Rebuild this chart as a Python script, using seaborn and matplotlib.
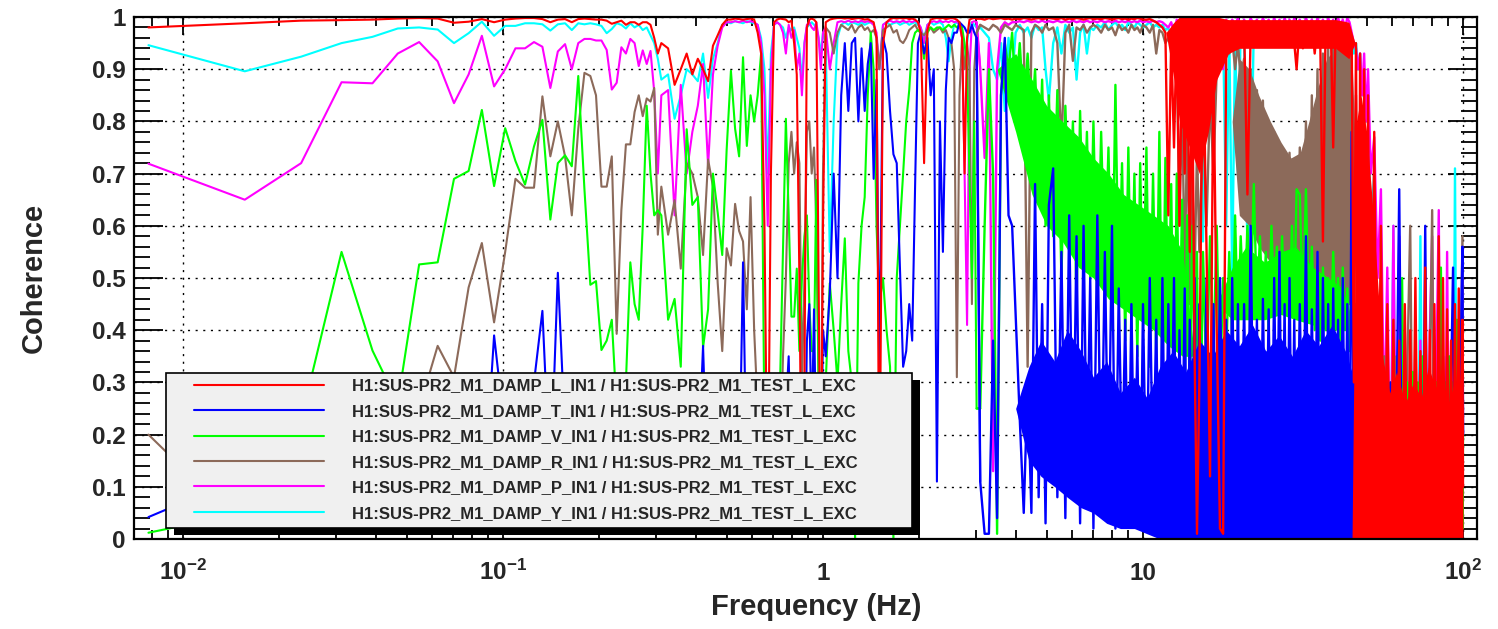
import numpy as np
import pandas as pd
import matplotlib
matplotlib.use("Agg")
import matplotlib.pyplot as plt
from matplotlib.ticker import LogLocator, MultipleLocator, NullFormatter
from matplotlib.patches import Rectangle
from matplotlib.lines import Line2D
import seaborn as sns

# ---------------- frequency bins (Hz) ----------------
freq_a = [0.0078, 0.0156, 0.0234, 0.0313, 0.0391, 0.0469, 0.0547, 0.0625, 0.0703, 0.0781,
          0.0859, 0.0938, 0.1016, 0.1094, 0.1172, 0.1250, 0.1328, 0.1406, 0.1484, 0.1563,
          0.1641, 0.1719, 0.1797, 0.1875, 0.1953, 0.2031, 0.2109, 0.2188, 0.2266, 0.2344,
          0.2422, 0.2500, 0.2578, 0.2656, 0.2734, 0.2813, 0.2891, 0.2969, 0.3047, 0.3125]
freq_b = [0.3281, 0.3438, 0.3594, 0.3750, 0.3906, 0.4063, 0.4219, 0.4375, 0.4531, 0.4688,
          0.4844, 0.5000, 0.5156, 0.5313, 0.5469, 0.5625, 0.5781, 0.5938, 0.6094, 0.6250,
          0.6406, 0.6563, 0.6719, 0.6875, 0.7031, 0.7188, 0.7344, 0.7500, 0.7656, 0.7813,
          0.7969, 0.8125, 0.8281, 0.8438, 0.8594, 0.8750, 0.8906, 0.9063, 0.9219, 0.9375,
          0.9531, 0.9688, 0.9844, 1.0000]
freq_c = [1.02, 1.05, 1.08, 1.11, 1.14, 1.17, 1.20, 1.23, 1.26, 1.29,
          1.32, 1.35, 1.38, 1.41, 1.44, 1.47, 1.50, 1.54, 1.58, 1.62,
          1.66, 1.70, 1.74, 1.78, 1.82, 1.86, 1.90, 1.94, 1.98, 2.02,
          2.07, 2.12, 2.17, 2.22, 2.27, 2.32, 2.37, 2.42, 2.47, 2.52,
          2.57, 2.62, 2.67, 2.72, 2.77, 2.82, 2.87, 2.92, 2.97, 3.02]
freq_d = [3.1, 3.2, 3.3, 3.4, 3.5, 3.6, 3.7, 3.8, 3.9, 4.0,
          4.12, 4.24, 4.36, 4.48, 4.60, 4.72, 4.84, 4.96, 5.08, 5.24,
          5.40, 5.56, 5.72, 5.88, 6.04, 6.20, 6.36, 6.52, 6.68, 6.84,
          7.00, 7.2, 7.4, 7.6, 7.8, 8.0, 8.2, 8.4, 8.6, 8.8,
          9.0, 9.2, 9.4, 9.6, 9.8, 10.0, 10.25, 10.5, 10.75, 11.0,
          11.25, 11.5, 11.75, 12.0, 12.25, 12.5, 12.75, 13.0, 13.25, 13.5,
          13.75, 14.0, 14.25, 14.5, 14.75, 15.0, 15.4, 15.8, 16.2, 16.6,
          17.0, 17.4, 17.8, 18.2, 18.6, 19.0, 19.4, 19.8, 20.2, 20.7,
          21.2, 21.7, 22.2, 22.7, 23.2, 23.7, 24.2, 24.7, 25.2, 25.7,
          26.2, 26.7, 27.2, 27.7, 28.2, 28.7, 29.2, 29.7, 30.2, 30.9,
          31.6, 32.3, 33.0, 33.7, 34.4, 35.1, 35.8, 36.5, 37.2, 37.9,
          38.6, 39.3, 40.0, 40.7, 41.4, 42.1, 42.8, 43.5, 44.2, 44.9,
          45.6, 46.3, 47.0, 47.7, 48.4, 49.1, 49.8, 50.5, 51.5, 52.8,
          54.1, 55.4, 56.7, 58.0, 59.3, 60.6, 61.9, 63.2, 64.5, 65.8,
          67.1, 68.4, 69.7, 71.0, 72.3, 73.6, 74.9, 76.2, 77.5, 78.8,
          80.1, 81.4, 82.7, 84.0, 85.3, 86.6, 87.9, 89.2, 90.5, 91.8,
          93.1, 94.4, 95.7, 97.0, 98.3, 99.6, 100.0]

# ---------------- coherence: DAMP_L ----------------
coh_L_a = [0.980, 0.988, 0.993, 0.994, 0.995, 0.997, 0.998, 0.997, 0.989, 0.991,
           0.996, 0.990, 0.995, 0.997, 0.998, 0.998, 0.996, 0.990, 0.995, 0.996,
           0.990, 0.996, 0.997, 0.996, 0.995, 0.995, 0.993, 0.987, 0.990, 0.993,
           0.985, 0.990, 0.990, 0.985, 0.990, 0.990, 0.985, 0.960, 0.930, 0.950]
coh_L_b = [0.940, 0.870, 0.900, 0.930, 0.890, 0.920, 0.900, 0.877, 0.945, 0.965,
           0.985, 0.995, 0.995, 0.997, 0.996, 0.995, 0.996, 0.997, 0.995, 0.970,
           0.930, 0.600, 0.020, 0.700, 0.990, 0.995, 0.997, 0.996, 0.995, 0.990,
           0.993, 0.950, 0.890, 0.500, 0.020, 0.300, 0.980, 0.995, 0.997, 0.995,
           0.990, 0.500, 0.020, 0.600]
coh_L_c = [0.990, 0.995, 0.997, 0.998, 0.998, 0.997, 0.998, 0.996, 0.997, 0.998,
           0.997, 0.995, 0.996, 0.993, 0.990, 0.960, 0.020, 0.950, 0.990, 0.996,
           0.998, 0.997, 0.998, 0.997, 0.998, 0.996, 0.997, 0.995, 0.990, 0.970,
           0.720, 0.975, 0.995, 0.997, 0.998, 0.997, 0.998, 0.996, 0.997, 0.998,
           0.997, 0.995, 0.990, 0.960, 0.700, 0.960, 0.995, 0.997, 0.998, 0.997]
coh_L_d = [0.997, 0.995, 0.998, 0.996, 0.997, 0.998, 0.996, 0.997, 0.995, 0.997,
           0.996, 0.998, 0.997, 0.995, 0.997, 0.998, 0.996, 0.997, 0.998, 0.997,
           0.996, 0.998, 0.995, 0.997, 0.996, 0.998, 0.997, 0.995, 0.997, 0.998,
           0.996, 0.997, 0.996, 0.998, 0.997, 0.995, 0.997, 0.998, 0.996, 0.997,
           0.995, 0.997, 0.996, 0.998, 0.997, 0.995, 0.995, 0.996, 0.993, 0.990,
           0.985, 0.980, 0.970, 0.620, 0.960, 0.750, 0.980, 0.600, 0.950, 0.700,
           0.970, 0.550, 0.900, 0.350, 0.010, 0.300, 0.970, 0.550, 0.120, 0.900,
           0.400, 0.020, 0.010, 0.950, 0.980, 0.970, 0.990, 0.980, 0.990, 0.985,
           0.660, 0.970, 0.990, 0.950, 0.985, 0.970, 0.990, 0.960, 0.985, 0.970,
           0.990, 0.950, 0.980, 0.960, 0.990, 0.970, 0.985, 0.950, 0.900, 0.990,
           0.940, 0.985, 0.950, 0.990, 0.930, 0.985, 0.960, 0.570, 0.980, 0.950,
           0.990, 0.750, 0.980, 0.950, 0.990, 0.940, 0.985, 0.950, 0.980, 0.960,
           0.300, 0.950, 0.100, 0.930, 0.050, 0.900, 0.030, 0.850, 0.020, 0.780,
           0.010, 0.600, 0.005, 0.450, 0.020, 0.420, 0.010, 0.380, 0.030, 0.450,
           0.010, 0.400, 0.020, 0.500, 0.010, 0.360, 0.030, 0.520, 0.010, 0.400,
           0.020, 0.450, 0.010, 0.580, 0.020, 0.500, 0.010, 0.440, 0.030, 0.380,
           0.010, 0.450, 0.020, 0.480, 0.010, 0.420, 0.100]

# ---------------- coherence: DAMP_T ----------------
coh_T_a = [0.042, 0.120, 0.050, 0.020, 0.150, 0.080, 0.030, 0.100, 0.050, 0.200,
           0.020, 0.390, 0.200, 0.050, 0.150, 0.300, 0.437, 0.100, 0.510, 0.200,
           0.100, 0.050, 0.150, 0.080, 0.120, 0.040, 0.200, 0.100, 0.060, 0.150,
           0.100, 0.040, 0.120, 0.250, 0.080, 0.030, 0.100, 0.200, 0.060, 0.020]
coh_T_b = [0.100, 0.050, 0.180, 0.080, 0.200, 0.120, 0.370, 0.060, 0.150, 0.030,
           0.200, 0.100, 0.050, 0.220, 0.100, 0.530, 0.080, 0.150, 0.040, 0.200,
           0.100, 0.250, 0.050, 0.150, 0.300, 0.100, 0.200, 0.060, 0.250, 0.350,
           0.100, 0.200, 0.280, 0.100, 0.300, 0.050, 0.380, 0.450, 0.200, 0.440,
           0.150, 0.300, 0.100, 0.400]
coh_T_c = [0.350, 0.470, 0.700, 0.500, 0.850, 0.950, 0.820, 0.950, 0.960, 0.800,
           0.940, 0.820, 0.910, 0.950, 0.690, 0.880, 0.300, 0.960, 0.930, 0.820,
           0.737, 0.720, 0.518, 0.330, 0.360, 0.450, 0.380, 0.675, 0.950, 0.970,
           0.930, 0.960, 0.850, 0.900, 0.110, 0.800, 0.550, 0.860, 0.960, 0.950,
           0.970, 0.970, 0.990, 0.985, 0.980, 0.970, 0.970, 0.985, 0.970, 0.960]
coh_T_d = [0.110, 0.010, 0.010, 0.380, 0.040, 0.850, 0.960, 0.620, 0.600, 0.430,
           0.230, 0.050, 0.300, 0.050, 0.680, 0.080, 0.450, 0.030, 0.640, 0.710,
           0.080, 0.550, 0.040, 0.620, 0.100, 0.580, 0.030, 0.600, 0.120, 0.500,
           0.020, 0.620, 0.060, 0.550, 0.100, 0.600, 0.020, 0.480, 0.120, 0.420,
           0.030, 0.450, 0.080, 0.370, 0.020, 0.450, 0.050, 0.500, 0.100, 0.420,
           0.020, 0.500, 0.050, 0.450, 0.150, 0.500, 0.020, 0.400, 0.100, 0.480,
           0.030, 0.420, 0.080, 0.500, 0.020, 0.450, 0.050, 0.500, 0.100, 0.450,
           0.020, 0.500, 0.080, 0.420, 0.030, 0.500, 0.100, 0.450, 0.040, 0.450,
           0.050, 0.600, 0.100, 0.420, 0.020, 0.460, 0.080, 0.440, 0.030, 0.500,
           0.100, 0.550, 0.050, 0.450, 0.020, 0.500, 0.080, 0.420, 0.030, 0.450,
           0.100, 0.580, 0.040, 0.440, 0.080, 0.550, 0.020, 0.500, 0.100, 0.450,
           0.030, 0.480, 0.080, 0.420, 0.020, 0.500, 0.100, 0.450, 0.050, 0.780,
           0.040, 0.400, 0.020, 0.350, 0.010, 0.300, 0.050, 0.250, 0.050, 0.020,
           0.300, 0.010, 0.250, 0.020, 0.300, 0.050, 0.200, 0.670, 0.020, 0.300,
           0.050, 0.280, 0.010, 0.320, 0.030, 0.300, 0.050, 0.600, 0.020, 0.300,
           0.040, 0.250, 0.020, 0.300, 0.050, 0.280, 0.020, 0.350, 0.040, 0.300,
           0.520, 0.050, 0.300, 0.030, 0.350, 0.560, 0.200]

# ---------------- coherence: DAMP_V ----------------
coh_V_a = [0.012, 0.050, 0.229, 0.550, 0.361, 0.261, 0.526, 0.530, 0.690, 0.705,
           0.822, 0.676, 0.787, 0.724, 0.679, 0.752, 0.803, 0.612, 0.720, 0.735,
           0.714, 0.887, 0.670, 0.487, 0.494, 0.362, 0.380, 0.420, 0.250, 0.200,
           0.300, 0.530, 0.450, 0.420, 0.600, 0.830, 0.700, 0.620, 0.630, 0.620]
coh_V_b = [0.420, 0.460, 0.330, 0.785, 0.640, 0.655, 0.367, 0.440, 0.700, 0.625,
           0.544, 0.746, 0.897, 0.786, 0.733, 0.923, 0.753, 0.850, 0.800, 0.850,
           0.930, 0.200, 0.100, 0.250, 0.150, 0.300, 0.300, 0.557, 0.805, 0.620,
           0.426, 0.426, 0.518, 0.360, 0.500, 0.580, 0.620, 0.450, 0.360, 0.360,
           0.688, 0.300, 0.100, 0.250]
coh_V_c = [0.300, 0.490, 0.400, 0.300, 0.450, 0.576, 0.360, 0.300, 0.000, 0.490,
           0.600, 0.655, 0.850, 0.970, 0.900, 0.600, 0.450, 0.500, 0.400, 0.330,
           0.000, 0.500, 0.600, 0.700, 0.800, 0.860, 0.950, 0.970, 0.975, 0.970,
           0.920, 0.970, 0.980, 0.975, 0.980, 0.980, 0.975, 0.980, 0.985, 0.980,
           0.985, 0.980, 0.985, 0.980, 0.950, 0.900, 0.690, 0.500, 0.800, 0.250]
coh_V_d = [0.250, 0.600, 0.900, 0.700, 0.010, 0.850, 0.950, 0.900, 0.970, 0.850,
           0.950, 0.820, 0.930, 0.790, 0.900, 0.700, 0.880, 0.600, 0.850, 0.580,
           0.860, 0.500, 0.830, 0.600, 0.800, 0.450, 0.820, 0.550, 0.780, 0.500,
           0.800, 0.450, 0.780, 0.500, 0.750, 0.400, 0.870, 0.450, 0.720, 0.380,
           0.750, 0.400, 0.700, 0.350, 0.720, 0.420, 0.750, 0.330, 0.700, 0.350,
           0.780, 0.300, 0.730, 0.400, 0.680, 0.250, 0.700, 0.350, 0.650, 0.300,
           0.620, 0.250, 0.600, 0.300, 0.550, 0.020, 0.550, 0.300, 0.580, 0.350,
           0.600, 0.280, 0.500, 0.350, 0.550, 0.380, 0.620, 0.400, 0.580, 0.420,
           0.600, 0.450, 0.680, 0.440, 0.580, 0.420, 0.550, 0.400, 0.600, 0.450,
           0.560, 0.420, 0.580, 0.440, 0.550, 0.400, 0.600, 0.450, 0.670, 0.660,
           0.450, 0.670, 0.420, 0.560, 0.400, 0.500, 0.380, 0.520, 0.400, 0.500,
           0.370, 0.550, 0.420, 0.500, 0.380, 0.520, 0.400, 0.480, 0.360, 0.500,
           0.300, 0.450, 0.200, 0.400, 0.100, 0.350, 0.050, 0.300, 0.020, 0.300,
           0.050, 0.350, 0.010, 0.300, 0.040, 0.280, 0.020, 0.300, 0.500, 0.030,
           0.300, 0.010, 0.320, 0.040, 0.300, 0.020, 0.350, 0.050, 0.300, 0.020,
           0.280, 0.040, 0.300, 0.020, 0.520, 0.030, 0.300, 0.020, 0.350, 0.040,
           0.300, 0.020, 0.420, 0.050, 0.300, 0.020, 0.200]

# ---------------- coherence: DAMP_R ----------------
coh_R_a = [0.200, 0.020, 0.150, 0.050, 0.200, 0.120, 0.250, 0.370, 0.310, 0.482,
           0.567, 0.415, 0.550, 0.690, 0.673, 0.673, 0.848, 0.733, 0.800, 0.733,
           0.620, 0.786, 0.893, 0.887, 0.850, 0.675, 0.675, 0.733, 0.393, 0.630,
           0.756, 0.756, 0.818, 0.850, 0.810, 0.844, 0.838, 0.864, 0.583, 0.675]
coh_R_b = [0.583, 0.649, 0.518, 0.720, 0.700, 0.655, 0.544, 0.727, 0.675, 0.490,
           0.360, 0.557, 0.524, 0.642, 0.590, 0.570, 0.440, 0.655, 0.400, 0.250,
           0.150, 0.100, 0.050, 0.200, 0.100, 0.300, 0.150, 0.350, 0.500, 0.720,
           0.780, 0.700, 0.760, 0.720, 0.300, 0.500, 0.780, 0.800, 0.700, 0.750,
           0.600, 0.300, 0.100, 0.700]
coh_R_c = [0.980, 0.970, 0.930, 0.970, 0.985, 0.980, 0.975, 0.985, 0.970, 0.980,
           0.985, 0.975, 0.980, 0.970, 0.975, 0.960, 0.900, 0.975, 0.980, 0.985,
           0.970, 0.975, 0.955, 0.950, 0.960, 0.975, 0.980, 0.985, 0.975, 0.970,
           0.965, 0.975, 0.980, 0.970, 0.975, 0.980, 0.970, 0.975, 0.960, 0.950,
           0.900, 0.310, 0.850, 0.960, 0.900, 0.950, 0.900, 0.450, 0.900, 0.970]
coh_R_d = [0.985, 0.980, 0.975, 0.985, 0.980, 0.970, 0.985, 0.980, 0.975, 0.985,
           0.980, 0.975, 0.330, 0.970, 0.985, 0.980, 0.970, 0.985, 0.975, 0.980,
           0.950, 0.750, 0.970, 0.985, 0.916, 0.980, 0.975, 0.985, 0.970, 0.980,
           0.985, 0.980, 0.970, 0.985, 0.975, 0.980, 0.965, 0.985, 0.975, 0.980,
           0.970, 0.985, 0.975, 0.980, 0.970, 0.985, 0.980, 0.970, 0.985, 0.930,
           0.975, 0.970, 0.950, 0.960, 0.970, 0.900, 0.930, 0.600, 0.850, 0.500,
           0.800, 0.450, 0.700, 0.500, 0.750, 0.550, 0.800, 0.600, 0.850, 0.700,
           0.900, 0.950, 0.960, 0.970, 0.930, 0.960, 0.900, 0.950, 0.880, 0.920,
           0.620, 0.900, 0.600, 0.860, 0.580, 0.840, 0.550, 0.800, 0.550, 0.780,
           0.520, 0.750, 0.500, 0.720, 0.500, 0.740, 0.480, 0.720, 0.470, 0.750,
           0.460, 0.800, 0.450, 0.850, 0.470, 0.900, 0.440, 0.930, 0.460, 0.950,
           0.450, 0.960, 0.470, 0.950, 0.440, 0.960, 0.460, 0.950, 0.450, 0.900,
           0.400, 0.850, 0.300, 0.700, 0.200, 0.550, 0.100, 0.500, 0.300, 0.050,
           0.400, 0.020, 0.350, 0.050, 0.300, 0.020, 0.350, 0.040, 0.300, 0.020,
           0.350, 0.600, 0.030, 0.300, 0.050, 0.350, 0.020, 0.300, 0.040, 0.320,
           0.630, 0.020, 0.300, 0.050, 0.350, 0.020, 0.300, 0.040, 0.320, 0.020,
           0.300, 0.040, 0.330, 0.020, 0.300, 0.580, 0.200]

# ---------------- coherence: DAMP_P ----------------
coh_P_a = [0.719, 0.650, 0.720, 0.875, 0.873, 0.930, 0.952, 0.915, 0.835, 0.890,
           0.964, 0.867, 0.900, 0.940, 0.940, 0.952, 0.943, 0.864, 0.934, 0.948,
           0.900, 0.950, 0.958, 0.958, 0.955, 0.955, 0.937, 0.861, 0.874, 0.942,
           0.930, 0.958, 0.950, 0.906, 0.936, 0.910, 0.935, 0.857, 0.700, 0.850]
coh_P_b = [0.860, 0.620, 0.870, 0.700, 0.780, 0.830, 0.910, 0.714, 0.890, 0.945,
           0.980, 0.990, 0.990, 0.992, 0.990, 0.993, 0.990, 0.992, 0.990, 0.985,
           0.950, 0.850, 0.600, 0.900, 0.985, 0.990, 0.985, 0.970, 0.930, 0.985,
           0.960, 0.975, 0.900, 0.930, 0.850, 0.950, 0.985, 0.990, 0.980, 0.975,
           0.990, 0.960, 0.900, 0.970]
coh_P_c = [0.980, 0.900, 0.950, 0.990, 0.992, 0.990, 0.993, 0.990, 0.992, 0.990,
           0.993, 0.990, 0.992, 0.990, 0.985, 0.970, 0.900, 0.985, 0.990, 0.993,
           0.990, 0.992, 0.990, 0.993, 0.990, 0.992, 0.990, 0.993, 0.990, 0.980,
           0.950, 0.985, 0.990, 0.992, 0.990, 0.993, 0.990, 0.992, 0.990, 0.993,
           0.990, 0.992, 0.985, 0.960, 0.700, 0.410, 0.900, 0.990, 0.992, 0.990]
coh_P_d = [0.900, 0.730, 0.950, 0.130, 0.900, 0.980, 0.990, 0.985, 0.990, 0.990,
           0.992, 0.990, 0.993, 0.990, 0.992, 0.990, 0.993, 0.990, 0.992, 0.990,
           0.993, 0.990, 0.992, 0.990, 0.993, 0.990, 0.992, 0.990, 0.993, 0.990,
           0.992, 0.990, 0.993, 0.990, 0.992, 0.990, 0.993, 0.990, 0.992, 0.990,
           0.993, 0.990, 0.992, 0.990, 0.993, 0.990, 0.992, 0.990, 0.993, 0.990,
           0.992, 0.990, 0.985, 0.980, 0.990, 0.970, 0.995, 0.960, 0.990, 0.970,
           0.995, 0.960, 0.990, 0.950, 0.900, 0.950, 0.995, 0.970, 0.990, 0.980,
           0.990, 0.950, 0.900, 0.995, 0.980, 0.995, 0.985, 0.998, 0.980, 0.995,
           0.980, 0.998, 0.985, 0.995, 0.980, 0.998, 0.985, 0.995, 0.980, 0.998,
           0.985, 0.995, 0.980, 0.998, 0.985, 0.995, 0.980, 0.998, 0.985, 0.995,
           0.980, 0.998, 0.985, 0.995, 0.980, 0.998, 0.985, 0.995, 0.980, 0.998,
           0.985, 0.995, 0.980, 0.998, 0.985, 0.995, 0.980, 0.998, 0.990, 0.970,
           0.950, 0.940, 0.900, 0.930, 0.850, 0.930, 0.800, 0.900, 0.700, 0.770,
           0.500, 0.670, 0.200, 0.520, 0.050, 0.600, 0.030, 0.580, 0.050, 0.400,
           0.020, 0.350, 0.030, 0.400, 0.020, 0.380, 0.040, 0.350, 0.020, 0.400,
           0.580, 0.030, 0.350, 0.630, 0.020, 0.350, 0.040, 0.550, 0.020, 0.380,
           0.030, 0.400, 0.020, 0.420, 0.040, 0.500, 0.200]

# ---------------- coherence: DAMP_Y ----------------
coh_Y_a = [0.946, 0.896, 0.924, 0.950, 0.962, 0.978, 0.980, 0.976, 0.950, 0.969,
           0.991, 0.964, 0.983, 0.983, 0.988, 0.988, 0.986, 0.974, 0.986, 0.988,
           0.975, 0.988, 0.986, 0.988, 0.986, 0.983, 0.969, 0.977, 0.988, 0.985,
           0.978, 0.988, 0.980, 0.985, 0.975, 0.980, 0.965, 0.950, 0.920, 0.880]
coh_Y_b = [0.890, 0.805, 0.850, 0.900, 0.890, 0.877, 0.930, 0.845, 0.920, 0.950,
           0.985, 0.990, 0.988, 0.992, 0.990, 0.988, 0.992, 0.990, 0.988, 0.985,
           0.960, 0.900, 0.700, 0.930, 0.985, 0.990, 0.985, 0.980, 0.960, 0.980,
           0.975, 0.980, 0.960, 0.940, 0.880, 0.950, 0.980, 0.985, 0.990, 0.985,
           0.980, 0.960, 0.930, 0.970]
coh_Y_c = [0.950, 0.550, 0.800, 0.960, 0.985, 0.990, 0.985, 0.990, 0.988, 0.985,
           0.990, 0.985, 0.988, 0.990, 0.985, 0.960, 0.900, 0.985, 0.990, 0.985,
           0.988, 0.990, 0.985, 0.988, 0.990, 0.985, 0.988, 0.990, 0.985, 0.980,
           0.960, 0.985, 0.990, 0.985, 0.988, 0.990, 0.985, 0.960, 0.915, 0.960,
           0.985, 0.990, 0.985, 0.970, 0.900, 0.950, 0.985, 0.990, 0.985, 0.980]
coh_Y_d = [0.980, 0.970, 0.960, 0.900, 0.880, 0.950, 0.820, 0.960, 0.880, 0.970,
           0.985, 0.970, 0.980, 0.960, 0.985, 0.975, 0.980, 0.900, 0.840, 0.950,
           0.980, 0.930, 0.985, 0.970, 0.980, 0.880, 0.970, 0.985, 0.930, 0.980,
           0.975, 0.985, 0.980, 0.990, 0.975, 0.985, 0.990, 0.980, 0.985, 0.975,
           0.990, 0.985, 0.980, 0.990, 0.985, 0.980, 0.985, 0.990, 0.980, 0.985,
           0.980, 0.985, 0.975, 0.980, 0.950, 0.985, 0.960, 0.980, 0.950, 0.985,
           0.960, 0.980, 0.950, 0.985, 0.950, 0.960, 0.570, 0.950, 0.900, 0.980,
           0.950, 0.900, 0.970, 0.600, 0.980, 0.500, 0.970, 0.700, 0.980, 0.950,
           0.550, 0.650, 0.980, 0.950, 0.985, 0.960, 0.980, 0.950, 0.985, 0.960,
           0.980, 0.950, 0.985, 0.960, 0.980, 0.950, 0.985, 0.960, 0.980, 0.950,
           0.985, 0.960, 0.980, 0.950, 0.985, 0.960, 0.980, 0.950, 0.985, 0.960,
           0.980, 0.950, 0.985, 0.960, 0.980, 0.950, 0.985, 0.960, 0.980, 0.950,
           0.930, 0.950, 0.900, 0.930, 0.850, 0.900, 0.800, 0.850, 0.600, 0.700,
           0.300, 0.500, 0.050, 0.350, 0.030, 0.600, 0.020, 0.350, 0.040, 0.300,
           0.020, 0.350, 0.030, 0.300, 0.020, 0.580, 0.040, 0.350, 0.020, 0.300,
           0.030, 0.350, 0.020, 0.300, 0.040, 0.350, 0.020, 0.300, 0.030, 0.350,
           0.020, 0.710, 0.030, 0.350, 0.020, 0.300, 0.200]

band_T_f = [4.0, 4.4, 4.8, 5.3, 5.8, 6.4, 7.0, 7.7, 8.5, 9.4,
            10.3, 11.3, 12.4, 13.6, 15.0, 16.5, 18.2, 20.0, 22.0, 24.2,
            26.6, 29.3, 32.2, 35.4, 39.0, 42.9, 46.0, 48.0, 50.0]
band_T_lo = [0.25, 0.15, 0.12, 0.10, 0.08, 0.06, 0.05, 0.03, 0.02, 0.02,
             0.01, 0.00, 0.00, 0.00, 0.00, 0.00, 0.00, 0.00, 0.00, 0.00,
             0.00, 0.00, 0.00, 0.00, 0.00, 0.00, 0.00, 0.00, 0.00]
band_T_hi = [0.25, 0.33, 0.38, 0.34, 0.40, 0.36, 0.31, 0.34, 0.28, 0.31,
             0.27, 0.33, 0.36, 0.32, 0.38, 0.35, 0.40, 0.37, 0.41, 0.36,
             0.39, 0.35, 0.40, 0.37, 0.41, 0.36, 0.30, 0.20, 0.00]
band_V1_f = [3.5, 4.0, 4.5, 5.0, 5.6, 6.3, 7.0, 7.8, 8.7, 9.7, 10.8, 12.0, 13.3, 14.5]
band_V1_lo = [0.90, 0.78, 0.66, 0.60, 0.57, 0.52, 0.50, 0.46, 0.44, 0.42, 0.40, 0.37, 0.35, 0.35]
band_V1_hi = [0.90, 0.93, 0.88, 0.83, 0.80, 0.77, 0.73, 0.70, 0.66, 0.64, 0.62, 0.60, 0.55, 0.35]
band_V2_f = [17.0, 19.0, 21.0, 24.0, 27.0, 30.0, 34.0, 38.0, 42.0, 46.0]
band_V2_lo = [0.45, 0.42, 0.42, 0.42, 0.43, 0.42, 0.41, 0.40, 0.40, 0.40]
band_V2_hi = [0.45, 0.52, 0.56, 0.53, 0.55, 0.56, 0.52, 0.50, 0.48, 0.40]
band_R_f = [19.0, 20.0, 21.5, 23.0, 25.0, 27.0, 29.0, 31.0, 33.0, 35.0,
            37.5, 40.0, 42.5, 45.0, 47.0]
band_R_lo = [0.80, 0.62, 0.60, 0.56, 0.53, 0.50, 0.48, 0.47, 0.46, 0.46,
             0.46, 0.45, 0.46, 0.45, 0.60]
band_R_hi = [0.80, 0.92, 0.90, 0.85, 0.80, 0.76, 0.73, 0.74, 0.80, 0.86,
             0.92, 0.94, 0.95, 0.92, 0.60]
band_Ltop_f = [11.8, 12.5, 13.0, 14.0, 15.0, 16.0, 17.0, 18.5, 20.0, 25.0,
               30.0, 35.0, 40.0, 44.0, 46.0]
band_Ltop_lo = [0.97, 0.88, 0.80, 0.75, 0.70, 0.78, 0.88, 0.93, 0.94, 0.94,
                0.94, 0.94, 0.94, 0.92, 0.95]
band_Ltop_hi = [0.97, 0.99, 1.00, 1.00, 1.00, 1.00, 1.00, 0.995, 0.995, 0.995,
                0.995, 0.995, 0.995, 0.99, 0.95]
band_Lbot_f = [45.0, 46.5, 48.0, 50.0, 52.0, 54.0, 56.0, 59.0, 62.0, 66.0,
               70.0, 74.0, 78.0, 82.0, 86.0, 90.0, 94.0, 97.0, 100.0]
band_Lbot_lo = [0.00, 0.00, 0.00, 0.00, 0.00, 0.00, 0.00, 0.00, 0.00, 0.00,
                0.00, 0.00, 0.00, 0.00, 0.00, 0.00, 0.00, 0.00, 0.00]
band_Lbot_hi = [0.00, 0.80, 0.85, 0.78, 0.65, 0.50, 0.35, 0.28, 0.32, 0.26,
                0.30, 0.27, 0.33, 0.29, 0.31, 0.26, 0.30, 0.27, 0.25]

# ---------------- labels / ticks ----------------
channels = ["L", "T", "V", "R", "P", "Y"]
legend_labels = [
    "H1:SUS-PR2_M1_DAMP_L_IN1 / H1:SUS-PR2_M1_TEST_L_EXC",
    "H1:SUS-PR2_M1_DAMP_T_IN1 / H1:SUS-PR2_M1_TEST_L_EXC",
    "H1:SUS-PR2_M1_DAMP_V_IN1 / H1:SUS-PR2_M1_TEST_L_EXC",
    "H1:SUS-PR2_M1_DAMP_R_IN1 / H1:SUS-PR2_M1_TEST_L_EXC",
    "H1:SUS-PR2_M1_DAMP_P_IN1 / H1:SUS-PR2_M1_TEST_L_EXC",
    "H1:SUS-PR2_M1_DAMP_Y_IN1 / H1:SUS-PR2_M1_TEST_L_EXC",
]
colors = ["#ff0000", "#0000ff", "#00ff00", "#8c6a5a", "#ff00ff", "#00ffff"]
x_tick_vals = [0.01, 0.1, 1, 10, 100]
x_tick_labels = [r"$\mathbf{10^{-2}}$", r"$\mathbf{10^{-1}}$", "1", "10", r"$\mathbf{10^{2}}$"]
y_tick_vals = [0.0, 0.1, 0.2, 0.3, 0.4, 0.5, 0.6, 0.7, 0.8, 0.9, 1.0]
y_tick_labels = ["0", "0.1", "0.2", "0.3", "0.4", "0.5", "0.6", "0.7", "0.8", "0.9", "1"]

freq = freq_a + freq_b + freq_c + freq_d
coh = {
    "L": coh_L_a + coh_L_b + coh_L_c + coh_L_d,
    "T": coh_T_a + coh_T_b + coh_T_c + coh_T_d,
    "V": coh_V_a + coh_V_b + coh_V_c + coh_V_d,
    "R": coh_R_a + coh_R_b + coh_R_c + coh_R_d,
    "P": coh_P_a + coh_P_b + coh_P_c + coh_P_d,
    "Y": coh_Y_a + coh_Y_b + coh_Y_c + coh_Y_d,
}
bands = {
    "L": [(band_Ltop_f, band_Ltop_lo, band_Ltop_hi), (band_Lbot_f, band_Lbot_lo, band_Lbot_hi)],
    "T": [(band_T_f, band_T_lo, band_T_hi)],
    "V": [(band_V1_f, band_V1_lo, band_V1_hi), (band_V2_f, band_V2_lo, band_V2_hi)],
    "R": [(band_R_f, band_R_lo, band_R_hi)],
    "P": [],
    "Y": [],
}

# ---------------- style ----------------
sns.set_style("white")
plt.rcParams["font.family"] = ["Liberation Sans", "DejaVu Sans"]
plt.rcParams["font.weight"] = "bold"
plt.rcParams["mathtext.fontset"] = "custom"
plt.rcParams["mathtext.rm"] = "Liberation Sans:bold"
plt.rcParams["mathtext.bf"] = "Liberation Sans:bold"
plt.rcParams["mathtext.it"] = "Liberation Sans:bold:italic"
plt.rcParams["mathtext.sf"] = "Liberation Sans:bold"

W, H = 1498, 629
fig = plt.figure(figsize=(W / 100, H / 100), dpi=100)
fig.patch.set_facecolor("white")
L0, R0, T0, B0 = 134, 1477, 17, 539
ax = fig.add_axes([L0 / W, 1 - B0 / H, (R0 - L0) / W, (B0 - T0) / H])
ax.set_facecolor("white")

split = len(freq_a) + len(freq_b) + len(freq_c)
draw_order = ["Y", "P", "R", "V", "T", "L"]
for z, key in enumerate(draw_order):
    idx = channels.index(key)
    zz = 2 + z * 0.1
    for bfq, lo, hi in bands[key]:
        m = min(len(bfq), len(lo), len(hi))
        ax.fill_between(bfq[:m], lo[:m], hi[:m], color=colors[idx],
                        linewidth=0, zorder=zz - 0.01)
    vals = coh[key]
    n = min(len(freq), len(vals))
    if n != len(freq) or n != len(vals):
        print("length mismatch", key, len(freq), len(vals))
    df = pd.DataFrame({"Frequency": freq[:n], "Coherence": vals[:n]})
    sns.lineplot(data=df.iloc[:split + 1], x="Frequency", y="Coherence",
                 color=colors[idx], linewidth=1.5, ax=ax, estimator=None,
                 errorbar=None, legend=False, zorder=zz)
    sns.lineplot(data=df.iloc[split - 1:], x="Frequency", y="Coherence",
                 color=colors[idx], linewidth=1.7, ax=ax, estimator=None,
                 errorbar=None, legend=False, zorder=zz)

ax.set_xscale("log")
ax.set_xlim(0.00703, 110.6)
ax.set_ylim(0, 1)

ax.set_xticks(x_tick_vals)
ax.set_xticklabels(x_tick_labels)
ax.xaxis.set_minor_locator(LogLocator(base=10, subs=[2, 3, 4, 5, 6, 7, 8, 9], numticks=50))
ax.xaxis.set_minor_formatter(NullFormatter())
ax.set_yticks(y_tick_vals)
ax.set_yticklabels(y_tick_labels)
ax.yaxis.set_minor_locator(MultipleLocator(0.02))

ax.tick_params(axis="both", which="both", direction="in", top=True, right=True,
               bottom=True, left=True, width=1.3, color="black")
ax.tick_params(axis="x", which="major", length=13, pad=29.5, labelsize=17.5)
ax.tick_params(axis="x", which="minor", length=6.5)
ax.tick_params(axis="y", which="major", length=21, pad=5.8, labelsize=17.5)
ax.tick_params(axis="y", which="minor", length=11.5)
for t in ax.get_xticklabels():
    t.set_verticalalignment("baseline")

for s in ax.spines.values():
    s.set_linewidth(1.6)
    s.set_color("black")
    s.set_zorder(10)

ax.set_axisbelow(True)
ax.grid(True, which="major", axis="both", color="black",
        linestyle=(0, (1.5, 4)), linewidth=1.0)
ax.grid(False, which="minor")

ax.set_xlabel("Frequency (Hz)", fontsize=21, fontweight="bold")
ax.set_ylabel("Coherence", fontsize=21, fontweight="bold")
ax.xaxis.set_label_coords(0.508, -0.1456)
ax.xaxis.label.set_verticalalignment("baseline")
ax.yaxis.set_label_coords(-0.064, 0.5)

# ---------------- legend (ROOT-like box with shadow) ----------------
bx0, bx1, by0, by1 = 166, 912, 373, 528
shadow = Rectangle(((bx0 + 8) / W, 1 - (by1 + 7) / H), (bx1 - bx0) / W, (by1 - by0) / H,
                   transform=fig.transFigure, facecolor="black", edgecolor="black",
                   linewidth=0, zorder=3)
frame = Rectangle((bx0 / W, 1 - by1 / H), (bx1 - bx0) / W, (by1 - by0) / H,
                  transform=fig.transFigure, facecolor="#f0f0f0", edgecolor="black",
                  linewidth=1.2, zorder=4)
fig.add_artist(shadow)
fig.add_artist(frame)

handles = [Line2D([], [], color=c, linewidth=1.5) for c in colors]
leg = fig.legend(handles, legend_labels, loc="upper left",
                 bbox_to_anchor=(194 / W, 1 - 378.5 / H), bbox_transform=fig.transFigure,
                 frameon=False, borderpad=0, borderaxespad=0,
                 handlelength=7.8, handletextpad=1.68, labelspacing=0.625,
                 prop={"size": 12, "weight": "bold"})
leg.set_zorder(5)

fig.savefig("out.png", dpi=100)
